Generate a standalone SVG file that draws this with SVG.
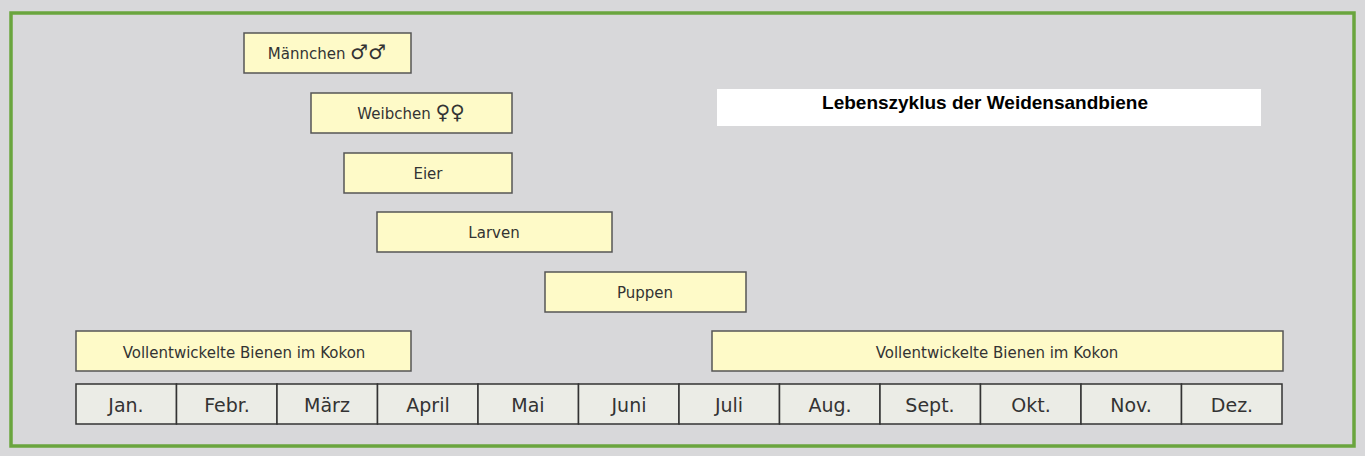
<svg xmlns="http://www.w3.org/2000/svg" width="1365" height="456" viewBox="0 0 1365 456">
<style>
.bar{fill:#fefac8;stroke:#555;stroke-width:1.5}
.m{fill:#ebece6;stroke:#333;stroke-width:1.5}
text{font-family:"DejaVu Sans",sans-serif;fill:#333;text-anchor:middle}
.b{font-size:15px}
.s{font-size:20px}
.mt{font-size:19px}
</style>
<rect width="1365" height="456" fill="#d8d8da"/>
<rect x="11" y="13" width="1343" height="433" fill="none" stroke="#6aa53e" stroke-width="3.5"/>
<g id="title"><rect x="717" y="89" width="544" height="37" fill="#fff"/>
<text x="985" y="109" style="font-family:'Liberation Sans',Arial,sans-serif;font-weight:bold;font-size:19px;fill:#000">Lebenszyklus der Weidensandbiene</text></g>
<g id="maennchen"><rect class="bar" x="244" y="33" width="167" height="40"/><text class="b" x="327" y="59">Männchen <tspan class="s">♂♂</tspan></text></g>
<g id="weibchen"><rect class="bar" x="311" y="93" width="201" height="40"/><text class="b" x="411" y="119">Weibchen <tspan class="s">♀♀</tspan></text></g>
<g id="eier"><rect class="bar" x="344" y="153" width="168" height="40"/><text class="b" x="428" y="179">Eier</text></g>
<g id="larven"><rect class="bar" x="377" y="212" width="235" height="40"/><text class="b" x="494" y="238">Larven</text></g>
<g id="puppen"><rect class="bar" x="545" y="272" width="201" height="40"/><text class="b" x="645" y="298">Puppen</text></g>
<g id="kokon1"><rect class="bar" x="76" y="331" width="335" height="40"/><text class="b" x="244" y="358">Vollentwickelte Bienen im Kokon</text></g>
<g id="kokon2"><rect class="bar" x="712" y="331" width="571" height="40"/><text class="b" x="997" y="358">Vollentwickelte Bienen im Kokon</text></g>
<g id="months">
<rect class="m" x="76" y="384" width="100.5" height="40"/><text class="mt" x="126" y="412">Jan.</text>
<rect class="m" x="176.5" y="384" width="100.5" height="40"/><text class="mt" x="227" y="412">Febr.</text>
<rect class="m" x="277" y="384" width="100.5" height="40"/><text class="mt" x="327" y="412">März</text>
<rect class="m" x="377.5" y="384" width="100.5" height="40"/><text class="mt" x="428" y="412">April</text>
<rect class="m" x="478" y="384" width="100.5" height="40"/><text class="mt" x="528" y="412">Mai</text>
<rect class="m" x="578.5" y="384" width="100.5" height="40"/><text class="mt" x="629" y="412">Juni</text>
<rect class="m" x="679" y="384" width="100.5" height="40"/><text class="mt" x="729" y="412">Juli</text>
<rect class="m" x="779.5" y="384" width="100.5" height="40"/><text class="mt" x="830" y="412">Aug.</text>
<rect class="m" x="880" y="384" width="100.5" height="40"/><text class="mt" x="930" y="412">Sept.</text>
<rect class="m" x="980.5" y="384" width="100.5" height="40"/><text class="mt" x="1031" y="412">Okt.</text>
<rect class="m" x="1081" y="384" width="100.5" height="40"/><text class="mt" x="1131" y="412">Nov.</text>
<rect class="m" x="1181.5" y="384" width="100.5" height="40"/><text class="mt" x="1232" y="412">Dez.</text>
</g>
<g id="connectors"/>
</svg>
